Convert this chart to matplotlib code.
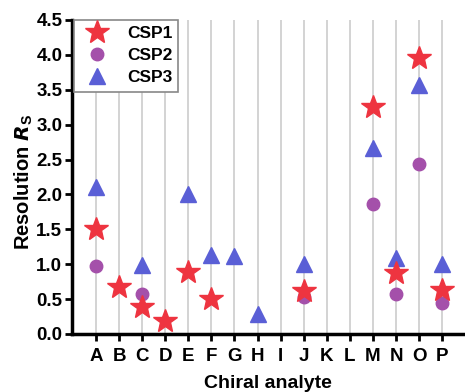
import matplotlib
matplotlib.use("Agg")
import matplotlib.pyplot as plt
import numpy as np

categories = list("ABCDEFGHIJKLMNOP")
csp1 = [1.50, 0.68, 0.39, 0.19, 0.89, 0.50, None, None, None, 0.61, None, None, 3.25, 0.87, 3.95, 0.63]
csp2 = [0.97, None, 0.58, None, None, None, None, None, None, 0.53, None, None, 1.86, 0.58, 2.43, 0.44]
csp3 = [2.10, None, 0.99, None, 2.00, 1.13, 1.12, 0.28, None, 1.00, None, None, 2.66, 1.09, 3.57, 1.01]

plt.rcParams['font.family'] = ['Liberation Sans', 'DejaVu Sans']
plt.rcParams['font.weight'] = 'bold'

fig = plt.figure(figsize=(4.65, 3.92), dpi=100)
ax = fig.add_axes([72/465, 1-334/392, (463-72)/465, (334-20)/392])

x = np.arange(len(categories))
def arr(v):
    return np.array([np.nan if a is None else a for a in v], dtype=float)

ax.grid(axis='x', color='#cccccc', linewidth=1.2, zorder=0)
ax.plot(x, arr(csp3), linestyle='none', marker='^', markersize=11, color='#5a5fd6', label='CSP3', zorder=3)
ax.plot(x, arr(csp2), linestyle='none', marker='o', markersize=9, color='#a450aa', label='CSP2', zorder=4)
ax.plot(x, arr(csp1), linestyle='none', marker='*', markersize=18, color='#ee3440', label='CSP1', zorder=5)

h, l = ax.get_legend_handles_labels()
leg = ax.legend(h[::-1], l[::-1], loc='upper left', bbox_to_anchor=(0.005, 1.0), fancybox=False,
                edgecolor='#888888', framealpha=1, fontsize=12.5, borderpad=0.35,
                labelspacing=0.4, handletextpad=0.7, borderaxespad=0.0)
leg.get_frame().set_linewidth(1.2)
for t in leg.get_texts():
    t.set_fontweight('bold')

ax.set_xlim(-1.04, 15.9)
ax.set_ylim(0, 4.5)
ax.set_xticks(x)
ax.set_xticklabels(categories)
ax.set_yticks(np.arange(0, 4.51, 0.5))
ax.set_yticklabels([f"{v:.1f}" for v in np.arange(0, 4.51, 0.5)])
ax.tick_params(axis='both', direction='out', length=5, width=2, labelsize=13.5, pad=2)
ax.tick_params(axis='x', pad=5)
for s in ['top', 'right']:
    ax.spines[s].set_visible(False)
for s in ['left', 'bottom']:
    ax.spines[s].set_linewidth(2.5)

ax.set_ylabel(r'Resolution $\mathit{R}_\mathregular{S}$', fontsize=14.5, fontweight='bold')
ax.yaxis.set_label_coords(-0.095, 0.484)
ax.set_xlabel('Chiral analyte', fontsize=14, fontweight='bold')
ax.xaxis.set_label_coords(0.5, -0.132)

fig.savefig('out.png', dpi=100)
